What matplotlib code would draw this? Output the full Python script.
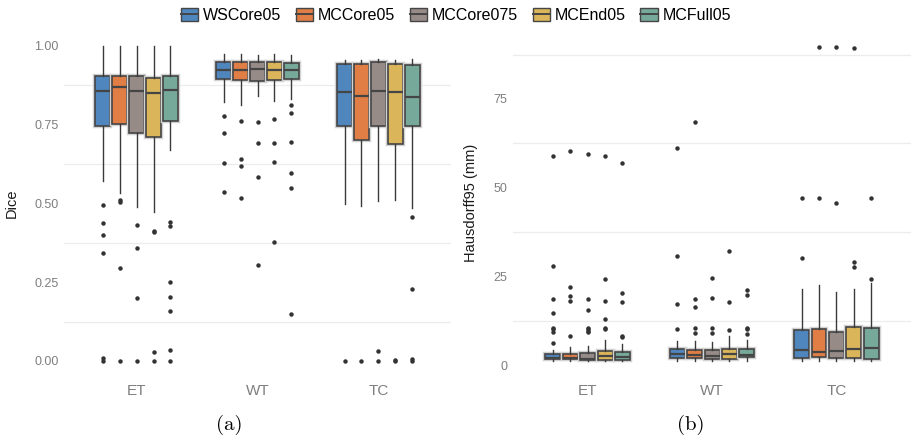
import matplotlib
matplotlib.use("Agg")
import matplotlib.pyplot as plt
import matplotlib.patheffects as pe
from matplotlib.patches import Patch
from matplotlib.lines import Line2D
from matplotlib.legend_handler import HandlerTuple

plt.rcParams["font.family"] = ["Liberation Sans", "DejaVu Sans"]

methods = ["WSCore05", "MCCore05", "MCCore075", "MCEnd05", "MCFull05"]
colors = ["#4f86be", "#e07e45", "#978b88", "#dbb55a", "#77a99b"]
regions = ["ET", "WT", "TC"]

# box stats per method: (whisker low, q1, median, q3, whisker high)
dice_et = [(0.572, 0.746, 0.855, 0.903, 1.00), (0.532, 0.751, 0.868, 0.905, 1.00),
           (0.488, 0.723, 0.858, 0.903, 1.00), (0.474, 0.711, 0.850, 0.897, 1.00),
           (0.668, 0.760, 0.860, 0.903, 1.00)]
dice_wt = [(0.820, 0.894, 0.922, 0.948, 0.973), (0.813, 0.890, 0.924, 0.948, 0.975),
           (0.842, 0.887, 0.925, 0.948, 0.971), (0.826, 0.890, 0.922, 0.950, 0.975),
           (0.830, 0.894, 0.924, 0.946, 0.971)]
dice_tc = [(0.497, 0.744, 0.853, 0.943, 0.956), (0.493, 0.702, 0.842, 0.942, 0.956),
           (0.506, 0.744, 0.857, 0.948, 0.959), (0.511, 0.689, 0.852, 0.942, 0.956),
           (0.485, 0.746, 0.837, 0.940, 0.959)]
dice_et_out = [[0.496, 0.437, 0.40, 0.342, 0.008, 0.0], [0.51, 0.505, 0.296, 0.0],
               [0.432, 0.358, 0.201, 0.0], [0.413, 0.409, 0.03, 0.0],
               [0.442, 0.428, 0.252, 0.204, 0.157, 0.035, 0.0]]
dice_wt_out = [[0.776, 0.723, 0.627, 0.535], [0.760, 0.640, 0.617, 0.516],
               [0.757, 0.693, 0.585, 0.305], [0.767, 0.693, 0.630, 0.379],
               [0.813, 0.786, 0.695, 0.596, 0.550, 0.148]]
dice_tc_out = [[0.0], [0.0], [0.033, 0.0], [0.004, 0.0], [0.456, 0.228, 0.005, 0.0]]

hd_et = [(1.3, 1.7, 2.2, 3.1, 4.2), (1.3, 1.7, 2.2, 3.1, 5.2),
         (1.3, 1.4, 1.8, 3.4, 5.5), (1.3, 1.4, 2.5, 4.1, 7.1),
         (1.3, 1.4, 2.3, 3.9, 6.0)]
hd_wt = [(1.2, 2.0, 3.1, 4.6, 6.9), (1.3, 2.2, 2.9, 4.3, 6.9),
         (1.2, 1.9, 2.6, 4.4, 6.7), (1.2, 1.9, 3.1, 4.6, 8.3),
         (1.3, 2.3, 3.0, 4.6, 7.2)]
hd_tc = [(1.3, 2.1, 4.3, 10.0, 21.4), (1.3, 2.3, 3.9, 10.3, 22.7),
         (1.3, 2.1, 4.1, 9.5, 20.6), (1.3, 2.2, 4.5, 10.7, 21.4),
         (1.3, 1.9, 4.9, 10.6, 23.3)]
hd_et_out = [[58.8, 27.9, 18.6, 14.7, 10.6, 10.2, 9.3, 6.2], [60.4, 22.1, 19.6, 18.2, 8.3],
             [59.6, 18.7, 15.6, 10.6, 10.2, 9.7, 9.3], [58.8, 24.3, 18.2, 13.1, 10.6, 10.2],
             [56.9, 20.5, 17.7, 8.4, 8.0]]
hd_wt_out = [[61.1, 30.9, 17.2, 10.2], [68.5, 18.6, 16.4, 10.5, 9.2],
             [24.7, 18.9, 10.5, 9.2], [32.3, 17.8, 10.0],
             [21.3, 19.8, 10.6, 10.2, 8.7]]
hd_tc_out = [[47.1, 30.2], [89.7, 47.1], [89.6, 45.8], [89.4, 29.2, 27.8], [47.2, 24.4]]


def draw_panel(ax, stats_by_region, out_by_region):
    for i, (stats, outs) in enumerate(zip(stats_by_region, out_by_region)):
        for j, (s, fl) in enumerate(zip(stats, outs)):
            d = dict(whislo=s[0], q1=s[1], med=s[2], q3=s[3], whishi=s[4], fliers=fl)
            r = ax.bxp([d], positions=[i + (j - 2) * 0.14], widths=0.12,
                       patch_artist=True, showcaps=False, manage_ticks=False,
                       boxprops=dict(facecolor=colors[j], edgecolor="#454545", linewidth=1.2),
                       medianprops=dict(color="#454545", linewidth=1.6),
                       whiskerprops=dict(color="#3a3a3a", linewidth=1.0),
                       flierprops=dict(marker="o", markersize=2.2, markerfacecolor="#333333",
                                       markeredgecolor="#333333"))
            for b in r["boxes"]:
                b.set_path_effects([pe.Stroke(linewidth=3.2, foreground="#d2d2d2"), pe.Normal()])
    ax.set_xlim(-0.6, 2.6)
    ax.set_xticks(range(3))
    ax.set_xticklabels(regions)
    for sp in ax.spines.values():
        sp.set_visible(False)
    ax.tick_params(length=0, labelcolor="#7f7f7f", labelsize=9, pad=4)
    ax.tick_params(axis="x", labelsize=11, pad=5)
    ax.grid(False)


fig = plt.figure(figsize=(9.12, 4.41), dpi=100)
ax1 = fig.add_axes([0.0702, 0.1457, 0.4243, 0.7863])
ax2 = fig.add_axes([0.5625, 0.1457, 0.4365, 0.7863])

draw_panel(ax1, [dice_et, dice_wt, dice_tc], [dice_et_out, dice_wt_out, dice_tc_out])
ax1.set_ylim(-0.05, 1.05)
ax1.set_yticks([0, 0.25, 0.5, 0.75, 1.0])
ax1.set_yticklabels(["0.00", "0.25", "0.50", "0.75", "1.00"])
for g in [0.125, 0.375, 0.625, 0.875]:
    ax1.axhline(g, color="#ececec", linewidth=0.9, zorder=0)
ax1.set_ylabel("Dice", fontsize=10.5, color="#1a1a1a")
ax1.yaxis.set_label_coords(-0.118, 0.5)

draw_panel(ax2, [hd_et, hd_wt, hd_tc], [hd_et_out, hd_wt_out, hd_tc_out])
ax2.set_ylim(-3.2, 94.4)
ax2.set_yticks([0, 25, 50, 75])
for g in [12.5, 37.5, 62.5, 87.5]:
    ax2.axhline(g, color="#ececec", linewidth=0.9, zorder=0)
ax2.set_ylabel("Hausdorff95 (mm)", fontsize=10.5, color="#1a1a1a")
ax2.yaxis.set_label_coords(-0.087, 0.5)

handles = [(Patch(facecolor=c, edgecolor="#454545", linewidth=1.0),
            Line2D([], [], color="#454545", linewidth=1.4)) for c in colors]
fig.legend(handles, methods, loc="upper center", bbox_to_anchor=(0.5, 1.015), ncol=5,
           frameon=False, fontsize=11.5, handlelength=1.1, handleheight=0.9,
           handletextpad=0.3, columnspacing=0.9,
           handler_map={tuple: HandlerTuple(ndivide=1)})

fig.text(0.251, 0.036, "(a)", fontsize=15, family="cmr10", ha="center", va="center")
fig.text(0.757, 0.036, "(b)", fontsize=15, family="cmr10", ha="center", va="center")

fig.savefig("out.png", dpi=100)
